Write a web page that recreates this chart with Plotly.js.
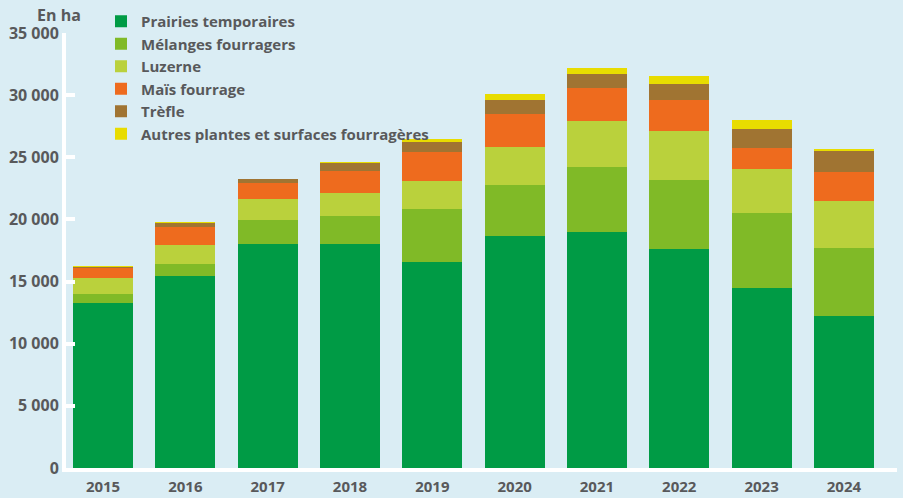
<!DOCTYPE html>
<html>
<head>
<meta charset="utf-8">
<script src="https://cdn.plot.ly/plotly-3.0.1.min.js"></script>
<style>html,body{margin:0;padding:0;background:#daedf4;}#chart{width:903px;height:498px;}</style>
</head>
<body>
<div id="chart"></div>
<script>
const years = ["2015","2016","2017","2018","2019","2020","2021","2022","2023","2024"];
const prairies = [13270, 15410, 18060, 18060, 16610, 18700, 19020, 17660, 14450, 12200];
const melanges = [700, 1040, 1925, 2250, 4250, 4095, 5220, 5540, 6100, 5540];
const luzerne = [1285, 1525, 1685, 1845, 2250, 3050, 3690, 3930, 3530, 3770];
const mais = [825, 1445, 1230, 1765, 2330, 2650, 2650, 2490, 1685, 2330];
const trefle = [80, 265, 375, 645, 800, 1125, 1125, 1285, 1525, 1690];
const autres = [80, 80, 0, 80, 240, 480, 480, 640, 720, 160];

const seriesNames = ["Prairies temporaires","Mélanges fourragers","Luzerne","Maïs fourrage","Trèfle","Autres plantes et surfaces fourragères"];
const seriesValues = [prairies, melanges, luzerne, mais, trefle, autres];
const seriesColors = ["#009b45","#80ba27","#bad13c","#ee6b1e","#a07432","#e8dc00"];

const FAM = "'Open Sans', 'DejaVu Sans Condensed', sans-serif";
const TXT = "#58595b";
function f(size){ return {family: FAM, size: size, color: TXT, weight: "bold", stretch: "condensed"}; }

const traces = seriesNames.map((n, i) => ({
  type: "bar",
  name: n,
  legendgroup: "g" + i,
  x: years,
  y: seriesValues[i],
  marker: {color: seriesColors[i], line: {width: 0}},
  hoverinfo: "x+y+name"
}));

// plot area: top of paper at 5px, plot bottom at 468px, 35000 at 33px
const PAPER_TOP = 5, PLOT_BOTTOM = 468, Y_TOP = 33;
const H = PLOT_BOTTOM - PAPER_TOP;
const domTop = (PLOT_BOTTOM - Y_TOP) / H;

const layout = {
  width: 903,
  height: 498,
  barmode: "stack",
  bargap: 0.27,
  paper_bgcolor: "#daedf4",
  plot_bgcolor: "#daedf4",
  separators: ", ",
  margin: {l: 66, r: 6, t: PAPER_TOP, b: 498 - PLOT_BOTTOM, pad: 0, autoexpand: false},
  font: f(15),
  xaxis: {
    type: "category",
    range: [-0.45, 9.645],
    showline: true, linecolor: "#ffffff", linewidth: 4,
    ticks: "", showgrid: false, zeroline: false,
    tickfont: f(15),
    ticklabelstandoff: 2
  },
  yaxis: {
    domain: [0, domTop],
    range: [0, 35000],
    tickvals: [0, 5000, 10000, 15000, 20000, 25000, 30000, 35000],
    separatethousands: true,
    tickformat: ",d",
    showline: true, linecolor: "#ffffff", linewidth: 4,
    ticks: "inside", ticklen: 9, tickwidth: 4, tickcolor: "#ffffff",
    showgrid: false, zeroline: false,
    tickfont: f(16)
  },
  legend: {
    traceorder: "normal",
    x: (101 - 66) / 831, xanchor: "left",
    y: 1, yanchor: "top",
    bgcolor: "rgba(0,0,0,0)",
    font: f(15),
    tracegroupgap: 0
  },
  annotations: [{
    text: "En ha",
    xref: "paper", yref: "paper",
    x: -0.008, y: (PLOT_BOTTOM - 15) / H, xanchor: "center", yanchor: "middle",
    showarrow: false,
    font: f(16)
  }],
  showlegend: true
};

Plotly.newPlot("chart", traces, layout, {displayModeBar: false, staticPlot: true});
</script>
</body>
</html>
